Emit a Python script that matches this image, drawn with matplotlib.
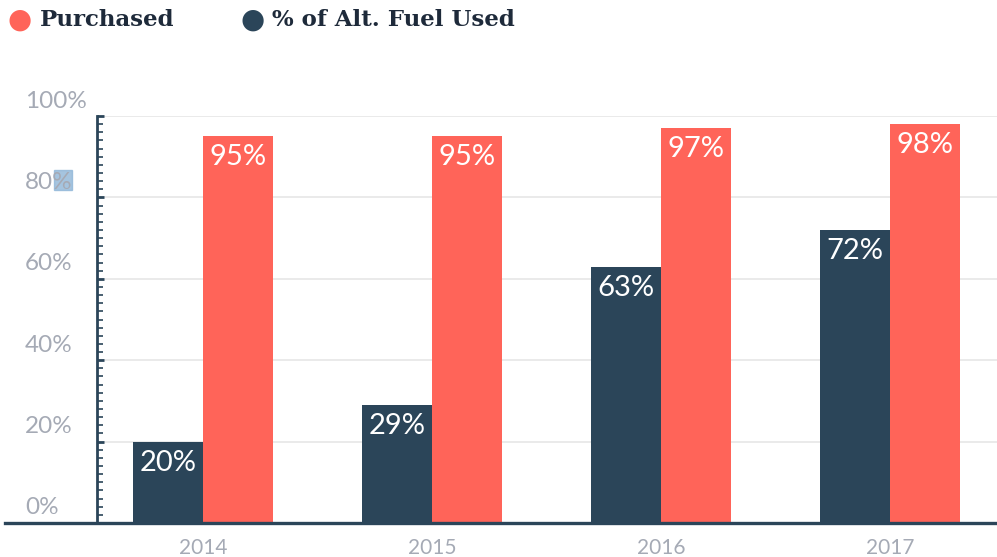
import matplotlib
matplotlib.use("Agg")
import matplotlib.pyplot as plt
import numpy as np
from matplotlib.lines import Line2D
from matplotlib.patches import Rectangle

years = ["2014", "2015", "2016", "2017"]
alt_fuel = [20, 29, 63, 72]
purchased = [95, 95, 97, 98]
ytick_vals = [0, 20, 40, 60, 80, 100]
ytick_labels = ["0%", "20%", "40%", "60%", "80%", "100%"]

DARK = "#2b4559"
RED = "#ff6459"
TXT = "#1e2a3a"
GRAY = "#a5aab5"

W, H = 997, 557
fig = plt.figure(figsize=(W / 100, H / 100), dpi=100)
ax = fig.add_axes([97 / W, (H - 523) / H, 1 - 97 / W, (523 - 116) / H])

x = np.arange(len(years))
bw = 0.305
b1 = ax.bar(x - bw / 2, alt_fuel, bw, color=DARK, zorder=3)
b2 = ax.bar(x + bw / 2, purchased, bw, color=RED, zorder=3)

for bars, vals in ((b1, alt_fuel), (b2, purchased)):
    for r, v in zip(bars, vals):
        ax.annotate(f"{v}%", (r.get_x() + r.get_width() / 2, v),
                    xytext=(0, -21), textcoords="offset pixels",
                    ha="center", va="center", color="white",
                    fontsize=21, family=["Lato", "DejaVu Sans"], zorder=4)

ax.set_xlim(-0.463, 3.467)
ax.set_ylim(0, 100)
ax.set_xticks(x)
ax.set_xticklabels(years, color=GRAY, fontsize=15, family=["Lato", "DejaVu Sans"])
ax.tick_params(axis="x", length=0, pad=11)

ax.set_yticks(ytick_vals)
ax.set_yticklabels([])
ax.set_yticks(np.arange(0, 101, 2), minor=True)
ax.tick_params(axis="y", which="minor", direction="in", length=4, width=1.2,
               color=DARK)
ax.tick_params(axis="y", which="major", direction="in", length=5, width=2,
               color=DARK)
# y labels: left aligned near the figure edge, raised above their gridlines
for v, lab in zip(ytick_vals, ytick_labels):
    ax.annotate(lab, (0, v), xycoords=("figure pixels", "data"),
                xytext=(25, 15), textcoords="offset pixels",
                ha="left", va="center", color=GRAY, fontsize=17.5,
                family=["Lato", "DejaVu Sans"], annotation_clip=False)

ax.yaxis.grid(True, color="#e6e6e6", linewidth=1.2, zorder=0)
ax.set_axisbelow(True)
for s in ("top", "right", "bottom"):
    ax.spines[s].set_visible(False)
ax.spines["left"].set_color(DARK)
ax.spines["left"].set_linewidth(2)

# bottom baseline extending beyond axes
fig.add_artist(Line2D([5 / W, 1.0], [(H - 523) / H] * 2, color=DARK, linewidth=2.4,
                      transform=fig.transFigure, zorder=5))

# selection highlight artifact on "80%"
fig.add_artist(Rectangle((54 / W, (H - 190) / H), 18 / W, 20 / H,
                         transform=fig.transFigure, color="#8fb6d8", alpha=0.8, zorder=0))

# legend
fig.text(20 / W, (H - 20) / H, "●", color=RED, fontsize=20, ha="center", va="center",
         family="DejaVu Sans")
fig.text(40 / W, (H - 20) / H, "Purchased", color=TXT, fontsize=16.5, ha="left",
         va="center", family="DejaVu Serif", weight="bold")
fig.text(253 / W, (H - 20) / H, "●", color=DARK, fontsize=20, ha="center", va="center",
         family="DejaVu Sans")
fig.text(272 / W, (H - 20) / H, "% of Alt. Fuel Used", color=TXT, fontsize=16.5, ha="left",
         va="center", family="DejaVu Serif", weight="bold")

fig.savefig("out.png", dpi=100)
